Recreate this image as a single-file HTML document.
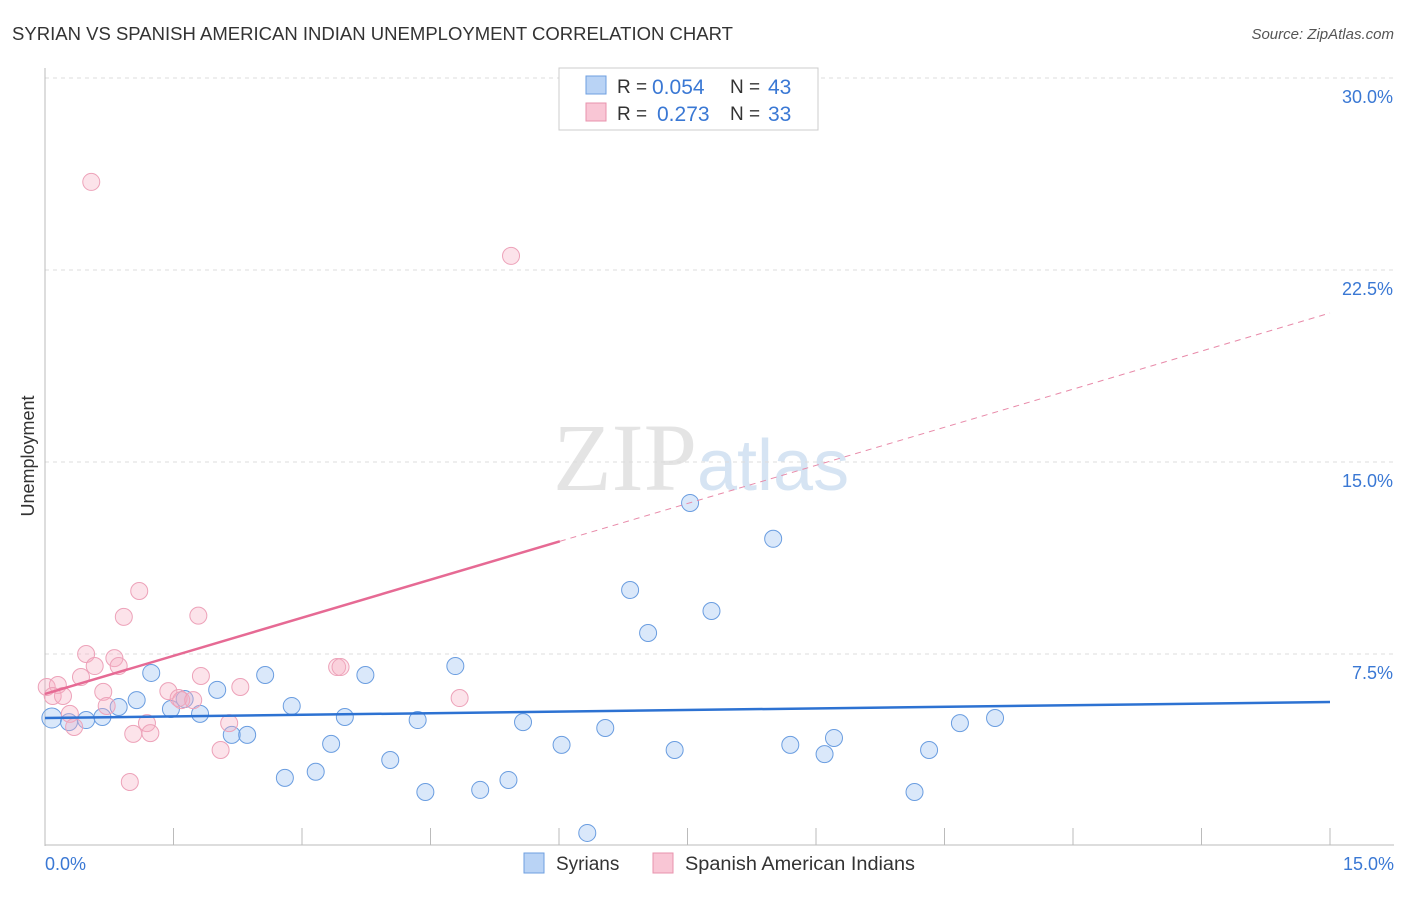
<!DOCTYPE html>
<html><head><meta charset="utf-8"><style>
body{margin:0;background:#fff;font-family:"Liberation Sans",sans-serif;}
</style></head><body>
<svg id="chart" width="1406" height="892" style="font-family:'Liberation Sans',sans-serif">
<text x="12" y="40" font-size="18" fill="#333" textLength="721" lengthAdjust="spacingAndGlyphs">SYRIAN VS SPANISH AMERICAN INDIAN UNEMPLOYMENT CORRELATION CHART</text>
<text x="1394" y="39" font-size="15" fill="#555" text-anchor="end" font-style="italic">Source: ZipAtlas.com</text>
<text x="553" y="490" font-size="96" fill="#e4e4e4" font-family="Liberation Serif">ZIP<tspan fill="#d6e4f3" font-family="Liberation Sans" font-size="72">atlas</tspan></text>
<g id="grid"></g>
<line x1="45" y1="68" x2="45" y2="846" stroke="#bbb"/>
<line x1="45" y1="845" x2="1394" y2="845" stroke="#bbb"/>
<text x="34" y="456" font-size="18" fill="#333" text-anchor="middle" transform="rotate(-90 34 456)">Unemployment</text>
<text x="45" y="870" font-size="18" fill="#3a78d4">0.0%</text>
<text x="1394" y="870" font-size="18" fill="#3a78d4" text-anchor="end">15.0%</text>
<g id="marks"></g>
<g>
<rect x="559" y="68" width="259" height="62" fill="#fff" stroke="#ccc"/>
<rect x="586" y="76" width="20" height="18" fill="#b9d3f5" stroke="#6e9fe0"/>
<rect x="586" y="103" width="20" height="18" fill="#f9c6d5" stroke="#e893ad"/>
<text x="617" y="93" font-size="19" fill="#333">R = </text><text x="652" y="94" font-size="21" fill="#3a78d4">0.054</text>
<text x="730" y="93" font-size="19" fill="#333">N = </text><text x="768" y="94" font-size="21" fill="#3a78d4">43</text>
<text x="617" y="120" font-size="19" fill="#333">R = </text><text x="657" y="121" font-size="21" fill="#3a78d4">0.273</text>
<text x="730" y="120" font-size="19" fill="#333">N = </text><text x="768" y="121" font-size="21" fill="#3a78d4">33</text>
</g>
<g>
<rect x="524" y="853" width="20" height="20" fill="#b9d3f5" stroke="#6e9fe0"/>
<text x="556" y="870" font-size="19" fill="#333">Syrians</text>
<rect x="653" y="853" width="20" height="20" fill="#f9c6d5" stroke="#e893ad"/>
<text x="685" y="870" font-size="19" fill="#333" textLength="230" lengthAdjust="spacingAndGlyphs">Spanish American Indians</text>
</g>
</svg>
<script>
const yTicks=[7.5,15,22.5,30];
const yTickLabels=["7.5%","15.0%","22.5%","30.0%"];
const xTicks=[0,1.5,3,4.5,6,7.5,9,10.5,12,13.5,15];
const syrX=[0.08,0.28,0.48,0.67,0.86,1.07,1.24,1.47,1.63,1.81,2.01,2.18,2.36,2.57,2.8,2.88,3.16,3.34,3.5,3.74,4.03,4.35,4.44,4.79,5.08,5.41,5.58,6.03,6.33,6.54,6.83,7.04,7.35,7.53,7.78,8.5,8.7,9.1,9.21,10.15,10.32,10.68,11.09];
const syrY=[5.0,4.84,4.92,5.04,5.43,5.7,6.76,5.35,5.74,5.16,6.1,4.34,4.34,6.68,2.66,5.47,2.9,3.99,5.04,6.68,3.36,4.92,2.11,7.03,2.19,2.58,4.84,3.95,0.51,4.61,10.0,8.32,3.75,13.4,9.18,12.0,3.95,3.59,4.22,2.11,3.75,4.8,5.0];
const spaX=[0.02,0.15,0.09,0.21,0.29,0.34,0.42,0.48,0.54,0.58,0.68,0.72,0.81,0.86,0.92,0.99,1.03,1.1,1.19,1.23,1.44,1.56,1.59,1.73,1.79,1.82,2.05,2.15,2.28,3.41,3.45,4.84,5.44];
const spaY=[6.21,6.29,5.86,5.86,5.16,4.65,6.6,7.5,25.94,7.03,6.02,5.47,7.34,7.03,8.95,2.5,4.38,9.96,4.8,4.41,6.05,5.78,5.7,5.7,9.0,6.64,3.75,4.8,6.21,6.99,6.99,5.78,23.05];
const syrTrend=[5.0,5.625];
const spaTrend=[5.94,20.82];
const spaSolidEnd=6.01;
const NS='http://www.w3.org/2000/svg';
const X=v=>45+v/15*1285, Y=v=>846-v/7.5*192;
function mk(t,a,p){const e=document.createElementNS(NS,t);for(const k in a)e.setAttribute(k,a[k]);p.appendChild(e);return e;}
const grid=document.getElementById('grid'),marks=document.getElementById('marks');
yTicks.forEach((v,i)=>{
 const l=mk('line',{x1:45,x2:1394,y1:Y(v),y2:Y(v),stroke:'#ddd','stroke-dasharray':'4,4'},grid);
 
 
 const t=mk('text',{x:1393,y:Y(v)+25,'font-size':18,fill:'#3a78d4','text-anchor':'end'},grid);
 t.textContent=yTickLabels[i];
 
 
});
xTicks.forEach(v=>{
 const l=mk('line',{x1:X(v),x2:X(v),y1:828,y2:845,stroke:'#bbb'},grid);
 
 
});
syrX.forEach((v,i)=>{
 const c=mk('circle',{cx:X(v),cy:Y(syrY[i]),r:i==0?10:8.5,fill:'rgba(150,190,240,0.35)',stroke:'#6a9de0','stroke-width':1},marks);
 
 
});
spaX.forEach((v,i)=>{
 const c=mk('circle',{cx:X(v),cy:Y(spaY[i]),r:8.5,fill:'rgba(245,175,195,0.35)',stroke:'#eda2b9','stroke-width':1},marks);
 
 
});
const bl=mk('line',{x1:X(0),y1:Y(syrTrend[0]),x2:X(15),y2:Y(syrTrend[1]),stroke:'#2d72d2','stroke-width':2.5},marks);


const pm=spaTrend[0]+(spaTrend[1]-spaTrend[0])*spaSolidEnd/15;
const ps=mk('line',{x1:X(0),y1:Y(spaTrend[0]),x2:X(spaSolidEnd),y2:Y(pm),stroke:'#e66a94','stroke-width':2.5},marks);


const pd=mk('line',{x1:X(spaSolidEnd),y1:Y(pm),x2:X(15),y2:Y(spaTrend[1]),stroke:'#e88aa9','stroke-width':1,'stroke-dasharray':'6,5'},marks);


</script>
</body></html>
